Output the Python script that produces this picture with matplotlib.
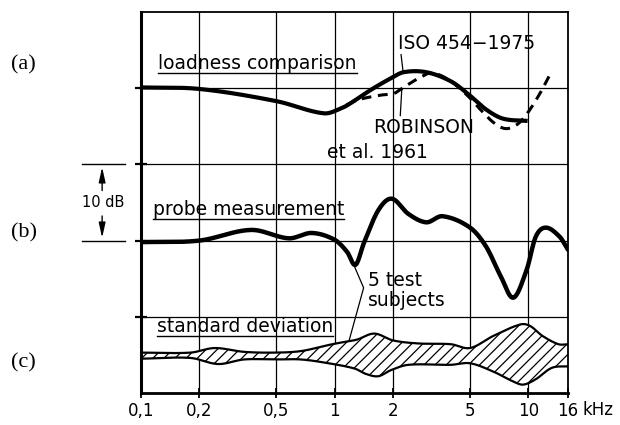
import numpy as np
import matplotlib
matplotlib.use("Agg")
import matplotlib.pyplot as plt
from matplotlib.lines import Line2D

# (a) loudness comparison, ISO 454-1975 (kHz, dB)
iso_f = [0.1, 0.2, 0.5, 0.88, 1.09, 1.22, 1.54, 1.95, 2.27, 2.97, 3.98, 4.9, 6.05, 7.4, 9.9]
iso_db = [40.1, 39.9, 38.3, 36.7, 37.4, 38.1, 39.8, 41.3, 42.1, 42.1, 40.9, 39.2, 37.2, 36.0, 35.7]

# (a) Robinson et al. 1961
rob_f = [1.15, 1.33, 1.74, 2.02, 2.2, 2.71, 3.18, 3.98, 5.0, 5.6, 6.6, 7.6, 8.7, 9.8, 11.4, 12.8]
rob_db = [37.8, 38.5, 39.1, 39.3, 39.9, 41.3, 42.0, 40.9, 38.7, 37.3, 35.5, 34.7, 35.2, 36.6, 39.2, 41.6]

# (b) probe measurement
probe_f = [0.1, 0.2, 0.37, 0.58, 0.76, 1.0, 1.16, 1.28, 1.42, 1.68, 1.97, 2.4, 2.97, 3.6,
           5.0, 6.05, 7.2, 8.36, 9.8, 10.9, 12.3, 14.5, 16]
probe_db = [19.8, 20.0, 21.4, 20.3, 21.0, 20.1, 18.5, 16.8, 19.8, 24.0, 25.5, 23.5, 22.4, 23.2,
            21.7, 19.2, 15.3, 12.5, 16.2, 20.5, 21.7, 20.5, 18.8]

# (c) standard deviation band, upper and lower edge
sd_hi_f = [0.1, 0.18, 0.24, 0.34, 0.49, 0.67, 0.93, 1.12, 1.3, 1.6, 2.0, 2.71,
           3.98, 5.0, 6.6, 9.1, 10.2, 11.8, 14.3, 16]
sd_hi_db = [5.3, 5.3, 5.9, 5.4, 5.3, 5.5, 6.3, 6.7, 7.0, 7.8, 6.9, 6.5,
            6.4, 5.9, 7.5, 9.0, 8.8, 7.5, 6.4, 6.4]
sd_lo_f = [0.1, 0.18, 0.25, 0.34, 0.49, 0.67, 0.93, 1.27, 1.45, 1.68, 1.95, 2.4, 3.98,
           5.0, 6.6, 8.36, 9.4, 10.9, 13.2, 16]
sd_lo_db = [4.5, 4.6, 3.8, 4.4, 4.4, 4.4, 3.9, 3.2, 2.5, 2.2, 3.0, 3.7, 3.7,
            3.9, 2.8, 1.5, 1.1, 1.8, 3.3, 3.5]

tick_f = [0.1, 0.2, 0.5, 1, 2, 5, 10, 16]
tick_lbl = ["0,1", "0,2", "0,5", "1", "2", "5", "10", "16"]


def smooth(f, v, fx):
    # cubic Hermite (Catmull-Rom tangents) through the points, in log-frequency
    x = np.log10(f)
    y = np.asarray(v, float)
    xs = np.log10(fx)
    m = np.empty_like(y)
    m[1:-1] = (y[2:] - y[:-2]) / (x[2:] - x[:-2])
    m[0] = (y[1] - y[0]) / (x[1] - x[0])
    m[-1] = (y[-1] - y[-2]) / (x[-1] - x[-2])
    i = np.clip(np.searchsorted(x, xs) - 1, 0, len(x) - 2)
    h = x[i + 1] - x[i]
    t = (xs - x[i]) / h
    return ((2 * t**3 - 3 * t**2 + 1) * y[i] + (t**3 - 2 * t**2 + t) * h * m[i]
            + (-2 * t**3 + 3 * t**2) * y[i + 1] + (t**3 - t**2) * h * m[i + 1])


def fgrid(f, n=300):
    return np.logspace(np.log10(f[0]), np.log10(f[-1]), n)


plt.rcParams["font.family"] = ["DejaVu Sans"]
plt.rcParams["hatch.linewidth"] = 0.9
fig = plt.figure(figsize=(6.2, 4.25), dpi=100)
ax = fig.add_axes([0.2274, 0.0753, 0.6887, 0.8965])

ax.set_xscale("log")
ax.set_xlim(0.1, 16)
ax.set_ylim(0, 50)

# curves
g = fgrid(iso_f)
ax.plot(g, smooth(iso_f, iso_db, g), color="k", lw=3.0, solid_capstyle="butt")
g = fgrid(rob_f)
ax.plot(g, smooth(rob_f, rob_db, g), color="k", lw=2.2, dashes=(3.2, 2.2))
g = fgrid(probe_f)
ax.plot(g, smooth(probe_f, probe_db, g), color="k", lw=3.2, solid_capstyle="round")

g = np.logspace(-1, np.log10(16), 400)
hi = smooth(sd_hi_f, sd_hi_db, g)
lo = smooth(sd_lo_f, sd_lo_db, g)
ax.fill_between(g, lo, hi, facecolor="white", edgecolor="k", hatch="///", lw=0)
ax.plot(g, hi, color="k", lw=1.6)
ax.plot(g, lo, color="k", lw=1.6)

# grid and frame
for f in [0.2, 0.5, 1, 2, 5, 10]:
    ax.axvline(f, color="k", lw=0.9, zorder=0)
for d in [10, 20, 30, 40]:
    ax.axhline(d, color="k", lw=0.9, zorder=0)

ax.spines["left"].set_linewidth(2.2)
ax.spines["bottom"].set_linewidth(2.0)
ax.spines["top"].set_linewidth(1.3)
ax.spines["right"].set_linewidth(1.3)

ax.set_xticks(tick_f)
ax.set_xticklabels(tick_lbl)
ax.xaxis.set_minor_locator(matplotlib.ticker.NullLocator())
ax.tick_params(axis="x", direction="inout", length=7, width=1.3, labelsize=12, pad=3)
ax.set_yticks([10, 20, 30, 40])
ax.set_yticklabels([])
ax.tick_params(axis="y", direction="inout", length=9, width=1.6)
ax.text(1.035, -0.045, "kHz", transform=ax.transAxes, fontsize=12, va="center", ha="left")

# panel letters
for lbl, d in [("(a)", 43.0), ("(b)", 21.0), ("(c)", 3.9)]:
    ax.text(-0.275, d, lbl, transform=ax.get_yaxis_transform(), fontsize=16,
            family=["Liberation Serif", "DejaVu Serif"], ha="center", va="center")

# 10 dB scale marker
yt = ax.get_yaxis_transform()
for d in [20, 30]:
    ax.add_line(Line2D([-0.138, -0.037], [d, d], transform=yt, color="k", lw=1.0, clip_on=False))
ax.annotate("", xy=(-0.091, 30), xytext=(-0.091, 26.2), xycoords=yt, textcoords=yt,
            arrowprops=dict(arrowstyle="-|>,head_length=0.9,head_width=0.2", color="k", lw=1.0))
ax.annotate("", xy=(-0.091, 20), xytext=(-0.091, 23.6), xycoords=yt, textcoords=yt,
            arrowprops=dict(arrowstyle="-|>,head_length=0.9,head_width=0.2", color="k", lw=1.0))
ax.text(-0.089, 25.0, "10 dB", transform=yt, fontsize=10.5, ha="center", va="center")

# titles with underline
tfs = 13.5
titles = [
    ax.text(0.123, 42.5, "loadness comparison", fontsize=tfs, va="baseline"),
    ax.text(0.115, 23.3, "probe measurement", fontsize=tfs, va="baseline"),
    ax.text(0.121, 8.0, "standard deviation", fontsize=tfs, va="baseline"),
]

# curve labels and leaders
ax.text(2.13, 45.9, "ISO 454\u22121975", fontsize=tfs, va="center")
ax.plot([2.2, 2.25], [44.4, 42.3], color="k", lw=0.9)
ax.text(1.58, 34.8, "ROBINSON", fontsize=tfs, va="center")
ax.text(0.91, 31.5, "et al. 1961", fontsize=tfs, va="center")
ax.plot([2.18, 2.22], [36.4, 39.9], color="k", lw=0.9)
ax.text(1.49, 14.8, "5 test", fontsize=tfs, va="center")
ax.text(1.49, 12.2, "subjects", fontsize=tfs, va="center")
ax.plot([1.26, 1.41, 1.19], [16.7, 13.8, 7.0], color="k", lw=0.9)

fig.canvas.draw()
inv = fig.transFigure.inverted()
for t in titles:
    bb = t.get_window_extent()
    base = ax.transData.transform(t.get_position())[1] - 4
    (x0, y0), (x1, _) = inv.transform([(bb.x0, base), (bb.x1, base)])
    fig.add_artist(Line2D([x0, x1], [y0, y0], transform=fig.transFigure, color="k", lw=1.0))

fig.savefig("out.png", dpi=100)
